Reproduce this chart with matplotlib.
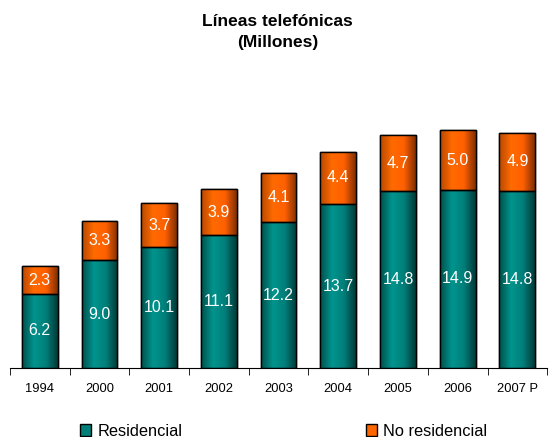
import numpy as np
import matplotlib.pyplot as plt
from matplotlib.colors import LinearSegmentedColormap
from matplotlib.patches import Patch

plt.rcParams["font.family"] = ["Liberation Sans", "DejaVu Sans"]

years = ["1994", "2000", "2001", "2002", "2003", "2004", "2005", "2006", "2007 P"]
residencial = [6.2, 9.0, 10.1, 11.1, 12.2, 13.7, 14.8, 14.9, 14.8]
no_residencial = [2.3, 3.3, 3.7, 3.9, 4.1, 4.4, 4.7, 5.0, 4.9]

teal = "#007F7A"
orange = "#FF6600"

fig = plt.figure(figsize=(5.5, 4.37), dpi=100)
ax = fig.add_axes([0.018, 0.158, 0.977, 0.659])

x = np.arange(len(years))
b1 = ax.bar(x, residencial, width=0.6, color=teal, edgecolor="black", linewidth=1)
b2 = ax.bar(x, no_residencial, width=0.6, bottom=residencial, color=orange,
            edgecolor="black", linewidth=1)

# horizontal shading inside each bar
grad = np.linspace(0, 1, 64).reshape(1, -1)
cm_teal = LinearSegmentedColormap.from_list("t", ["#00504C", "#00948E", "#007F7A", "#003A38"])
cm_orange = LinearSegmentedColormap.from_list("o", ["#B84800", "#FF6A00", "#FF6000", "#803000"])
for bars, cm in [(b1, cm_teal), (b2, cm_orange)]:
    for p in bars:
        x0, y0 = p.get_x(), p.get_y()
        w, h = p.get_width(), p.get_height()
        im = ax.imshow(grad, cmap=cm, aspect="auto", extent=[x0, x0 + w, y0, y0 + h],
                       zorder=p.get_zorder() + 0.1, interpolation="bicubic")
        im.set_clip_path(p)
        ax.add_patch(plt.Rectangle((x0, y0), w, h, fill=False, edgecolor="black",
                                   linewidth=1, zorder=p.get_zorder() + 0.2))

for i in range(len(years)):
    ax.text(x[i], residencial[i] / 2, f"{residencial[i]:.1f}", ha="center", va="center",
            color="white", fontsize=11.5, zorder=5)
    ax.text(x[i], residencial[i] + no_residencial[i] / 2, f"{no_residencial[i]:.1f}",
            ha="center", va="center", color="white", fontsize=11.5, zorder=5)

ax.set_xlim(-0.5, len(years) - 0.5)
ax.set_ylim(0, 24.1)
for s in ["top", "right", "left"]:
    ax.spines[s].set_visible(False)
ax.spines["bottom"].set_color("black")
ax.set_yticks([])
ax.set_xticks(x)
ax.set_xticklabels(years, fontsize=9.3)
ax.set_xticks(np.arange(-0.5, len(years)), minor=True)
ax.tick_params(axis="x", which="major", length=0, pad=11)
ax.tick_params(axis="x", which="minor", length=5, direction="out")

fig.text(0.505, 0.95, "Líneas telefónicas", ha="center", va="center",
         fontsize=12.5, fontweight="bold")
fig.text(0.505, 0.902, "(Millones)", ha="center", va="center",
         fontsize=12.5, fontweight="bold")

leg_opts = dict(loc="center left", frameon=False, fontsize=11.8, handlelength=0.7,
                handleheight=0.7, handletextpad=0.35, borderpad=0, borderaxespad=0)
fig.legend([Patch(facecolor=teal, edgecolor="black")], ["Residencial"],
           bbox_to_anchor=(80 / 550, 1 - 431 / 437), **leg_opts)
fig.legend([Patch(facecolor=orange, edgecolor="black")], ["No residencial"],
           bbox_to_anchor=(366 / 550, 1 - 431 / 437), **leg_opts)

fig.savefig("out.png", dpi=100)
